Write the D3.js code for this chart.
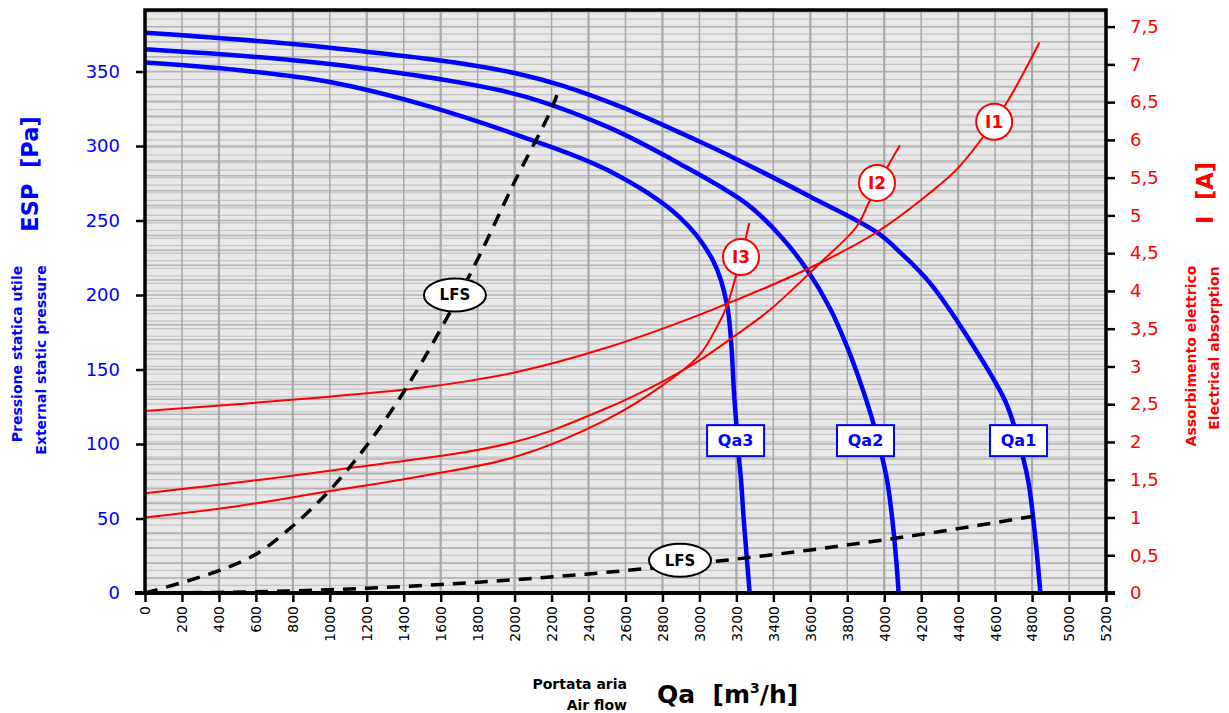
<!DOCTYPE html>
<html><head><meta charset="utf-8">
<script src="https://cdn.jsdelivr.net/npm/d3@7"></script>
<style>body{margin:0;background:#fff;}svg{display:block;font-family:"DejaVu Sans",sans-serif;}</style>
</head><body>
<script>
// ---- data ----
const xTicks = [0,200,400,600,800,1000,1200,1400,1600,1800,2000,2200,2400,2600,2800,3000,3200,3400,3600,3800,4000,4200,4400,4600,4800,5000,5200];
const leftTicks = [0,50,100,150,200,250,300,350];
const rightTicks = [0,0.5,1,1.5,2,2.5,3,3.5,4,4.5,5,5.5,6,6.5,7,7.5];
const rightTickLabels = ["0","0,5","1","1,5","2","2,5","3","3,5","4","4,5","5","5,5","6","6,5","7","7,5"];

const qa1Q = [0,1000,2000,2500,3000,3220,3600,3961,4100,4248,4450,4654,4720,4778,4815,4845];
const qa1P = [376,366,349,330,303,290,266,242,227,208,172,129,105,76,40,0];
const qa2Q = [0,1000,2000,2500,2895,3258,3436,3582,3707,3800,3880,3934,3977,4015,4045,4065,4078];
const qa2P = [365,355,335,313,288,261,240,217,191,165,138,117,97,76,48,22,0];
const qa3Q = [0,500,1000,1500,2000,2500,2895,3074,3150,3190,3213,3225,3240,3272];
const qa3P = [356,351,343,328,308,284,252,223,193,129,92,76,49,0];

const i1Q = [0,500,1000,1500,2000,2500,3068,3653,3961,4248,4400,4595,4680,4840];
const i1A = [2.41,2.5,2.6,2.72,2.92,3.25,3.75,4.37,4.78,5.3,5.63,6.24,6.56,7.29];
const i2Q = [0,1000,2000,2500,2800,3000,3200,3382,3653,3850,3923,4031,4085];
const i2A = [1.32,1.62,2.0,2.45,2.8,3.08,3.42,3.75,4.37,4.85,5.2,5.7,5.93];
const i3Q = [0,500,1000,1500,2000,2500,2800,3000,3100,3150,3225,3270];
const i3A = [1.0,1.15,1.35,1.55,1.8,2.3,2.75,3.15,3.55,3.81,4.45,4.9];

const lfs1Q = [0,200,400,600,800,1000,1200,1400,1600,1800,2000,2200,2245];
const lfs1P = [0,7,15,26,45,69,99,135,177,224,276,325,340];
const lfs2Q = [0,400,800,1200,1600,2000,2400,2800,3200,3600,4000,4400,4815];
const lfs2P = [0,0.4,1.4,3.2,5.7,8.9,12.8,17.5,22.8,28.9,35.7,43.2,51.7];

const qaLabels = ["Qa1","Qa2","Qa3"];
const qaLabelQ = [4724,3896,3193];
const qaLabelP = [102.6,102.6,102.6];
const iLabels = ["I1","I2","I3"];
const iLabelQ = [4595,3961,3225];
const iLabelA = [6.24,5.43,4.45];
const lfsLabelQ = [1677,2895];
const lfsLabelP = [200,22];

// ---- chart ----
const W=1229,H=713;
const TF="DejaVu Sans, sans-serif";
const svg=d3.select("body").append("svg").attr("width",W).attr("height",H);
const x=d3.scaleLinear().domain([0,5200]).range([145,1106]);
const yL=d3.scaleLinear().domain([0,391.3]).range([593,10]);
const yR=d3.scaleLinear().domain([0,7.72]).range([593,10]);

svg.append("rect").attr("x",x(0)).attr("y",10).attr("width",x(5200)-x(0)).attr("height",583).attr("fill","#e8e8e8");

// horizontal grid
const g=svg.append("g");
const hMinor=d3.range(0,7.72,0.1);
g.selectAll("line.hr").data(hMinor).join("line").attr("x1",x(0)).attr("x2",x(5200))
 .attr("y1",d=>yR(d)).attr("y2",d=>yR(d)).attr("stroke","#c4c4c4").attr("stroke-width",1.2);
const hL=d3.range(0,391,10);
g.selectAll("line.hl").data(hL).join("line").attr("x1",x(0)).attr("x2",x(5200))
 .attr("y1",d=>yL(d)).attr("y2",d=>yL(d)).attr("stroke","#b4b4b4").attr("stroke-width",1.5);
// vertical grid
g.selectAll("line.v").data(xTicks).join("line").attr("x1",d=>x(d)).attr("x2",d=>x(d))
 .attr("y1",10).attr("y2",593).attr("stroke","#a8a8a8").attr("stroke-width",(d,i)=>i%2===0?2.2:1.5);

function zip(a,b){return a.map((v,i)=>[v,b[i]]);}
const lineL=d3.line().x(d=>x(d[0])).y(d=>yL(d[1])).curve(d3.curveCatmullRom.alpha(0.5));
const lineR=d3.line().x(d=>x(d[0])).y(d=>yR(d[1])).curve(d3.curveCatmullRom.alpha(0.5));

// blue curves
[[qa1Q,qa1P],[qa2Q,qa2P],[qa3Q,qa3P]].forEach(([q,p])=>{
  svg.append("path").attr("d",lineL(zip(q,p))).attr("fill","none").attr("stroke","#0000ff").attr("stroke-width",4.5);
});
// red curves
[[i1Q,i1A],[i2Q,i2A],[i3Q,i3A]].forEach(([q,a])=>{
  svg.append("path").attr("d",lineR(zip(q,a))).attr("fill","none").attr("stroke","#ff0000").attr("stroke-width",2);
});
// LFS
[[lfs1Q,lfs1P],[lfs2Q,lfs2P]].forEach(([q,p])=>{
  svg.append("path").attr("d",lineL(zip(q,p))).attr("fill","none").attr("stroke","#000").attr("stroke-width",3.5).attr("stroke-dasharray","13,9");
});

// frame
svg.append("rect").attr("x",x(0)).attr("y",10).attr("width",x(5200)-x(0)).attr("height",583).attr("fill","none").attr("stroke","#000").attr("stroke-width",3.5);
svg.append("line").attr("x1",x(0)-10).attr("x2",x(5200)+9).attr("y1",593).attr("y2",593).attr("stroke","#000").attr("stroke-width",4);

// axes
const axL=svg.append("g").attr("transform",`translate(${x(0)},0)`).call(d3.axisLeft(yL).tickValues(leftTicks).tickSize(9).tickPadding(16));
axL.select(".domain").remove();
axL.selectAll("line").attr("stroke","#000").attr("stroke-width",2.5);
axL.selectAll("text").attr("fill","#0000ff").attr("font-size",18).attr("font-family",TF);

const axR=svg.append("g").attr("transform",`translate(${x(5200)},0)`).call(d3.axisRight(yR).tickValues(rightTicks).tickFormat((d,i)=>rightTickLabels[i]).tickSize(9).tickPadding(15));
axR.select(".domain").remove();
axR.selectAll("line").attr("stroke","#000").attr("stroke-width",2.5);
axR.selectAll("text").attr("fill","#ff0000").attr("font-size",18).attr("font-family",TF);

const axB=svg.append("g").attr("transform",`translate(0,593)`).call(d3.axisBottom(x).tickValues(xTicks).tickFormat(d3.format("d")).tickSize(9));
axB.select(".domain").remove();
axB.selectAll("line").attr("stroke","#000").attr("stroke-width",2.5);
axB.selectAll("text").attr("fill","#000").attr("font-size",14).attr("font-family",TF)
  .attr("text-anchor","end").attr("dy","0.35em").attr("transform","translate(0,4) rotate(-90)").attr("x",-9).attr("y",0);

// Qa labels
qaLabels.forEach((t,i)=>{
  const cx=x(qaLabelQ[i]),cy=yL(qaLabelP[i]);
  svg.append("rect").attr("x",cx-28).attr("y",cy-15).attr("width",57).attr("height",31).attr("fill","#fff").attr("stroke","#0000ff").attr("stroke-width",2);
  svg.append("text").attr("x",cx+0.5).attr("y",cy+0.5).attr("dy","0.36em").attr("text-anchor","middle").attr("fill","#0000ff")
    .attr("font-weight","bold").attr("font-size",16).attr("font-family",TF).text(t);
});
// I labels
iLabels.forEach((t,i)=>{
  const cx=x(iLabelQ[i]),cy=yR(iLabelA[i]);
  svg.append("circle").attr("cx",cx).attr("cy",cy).attr("r",18).attr("fill","#fff").attr("stroke","#ff0000").attr("stroke-width",2);
  svg.append("text").attr("x",cx).attr("y",cy).attr("dy","0.36em").attr("text-anchor","middle").attr("fill","#ff0000")
    .attr("font-weight","bold").attr("font-size",17).attr("font-family",TF).text(t);
});
// LFS labels
lfsLabelQ.forEach((q,i)=>{
  const cx=x(q),cy=yL(lfsLabelP[i]);
  svg.append("ellipse").attr("cx",cx).attr("cy",cy).attr("rx",31).attr("ry",16.5).attr("fill","#fff").attr("stroke","#000").attr("stroke-width",2);
  svg.append("text").attr("x",cx).attr("y",cy).attr("dy","0.36em").attr("text-anchor","middle").attr("fill","#000")
    .attr("font-weight","bold").attr("font-size",15).attr("font-family",TF).text("LFS");
});

// axis titles
function vtext(tx,ty,txt,size,color){
  svg.append("text").attr("transform",`translate(${tx},${ty}) rotate(-90)`).attr("text-anchor","middle").attr("dy","0.35em")
   .attr("fill",color).attr("font-weight","bold").attr("font-size",size).attr("font-family",TF).text(txt);
}
vtext(30,174,"ESP\u00A0\u00A0[Pa]",22.5,"#0000ff");
vtext(17,354,"Pressione statica utile",14,"#0000ff");
vtext(41,360,"External static pressure",14,"#0000ff");
vtext(1205,193,"I\u00A0\u00A0[A]",22.5,"#ff0000");
vtext(1191,356,"Assorbimento elettrico",14,"#ff0000");
vtext(1214,348,"Electrical absorption",14,"#ff0000");

svg.append("text").attr("x",627).attr("y",689).attr("text-anchor","end").attr("font-weight","bold").attr("font-size",14).attr("font-family",TF).text("Portata aria");
svg.append("text").attr("x",627).attr("y",710).attr("text-anchor","end").attr("font-weight","bold").attr("font-size",14).attr("font-family",TF).text("Air flow");
const qt=svg.append("text").attr("x",657).attr("y",703).attr("font-weight","bold").attr("font-size",25).attr("font-family",TF);
qt.append("tspan").text("Qa\u00A0\u00A0[m");
qt.append("tspan").attr("font-size",14).attr("dy",-10).text("3");
qt.append("tspan").attr("dy",10).text("/h]");
</script>
</body></html>
